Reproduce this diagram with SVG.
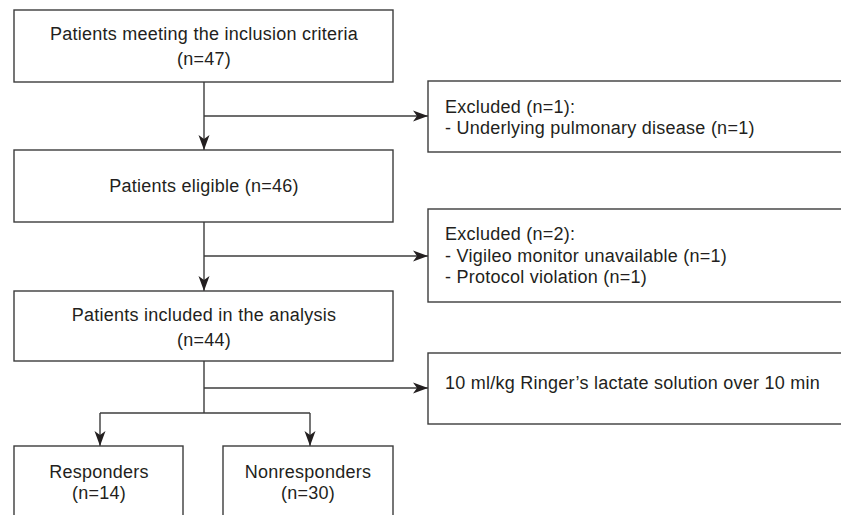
<svg xmlns="http://www.w3.org/2000/svg" width="841" height="515" viewBox="0 0 841 515">
<defs>
<style>
.box{fill:#fff;stroke:#3c3c3c;stroke-width:1.4}
.ln{fill:none;stroke:#3c3c3c;stroke-width:1.4}
text{font-family:"Liberation Sans",Arial,sans-serif;font-size:18px;letter-spacing:0.25px;fill:#231f20}
.c{text-anchor:middle}
</style>
<marker id="ah" markerUnits="userSpaceOnUse" markerWidth="16" markerHeight="12" viewBox="0 0 16 12" refX="15" refY="6" orient="auto">
<path d="M0,0.5 L15,6 L0,11.5 L4,6 z" fill="#231f20"/>
</marker>
</defs>
<rect width="841" height="515" fill="#fff"/>
<g id="connectors">
<path class="ln" d="M204,82 V150" marker-end="url(#ah)"/>
<path class="ln" d="M204,116 H428" marker-end="url(#ah)"/>
<path class="ln" d="M204,222 V291" marker-end="url(#ah)"/>
<path class="ln" d="M204,256 H428" marker-end="url(#ah)"/>
<path class="ln" d="M204,361 V413"/>
<path class="ln" d="M204,388 H428" marker-end="url(#ah)"/>
<path class="ln" d="M100,413 H310"/>
<path class="ln" d="M100,413 V446" marker-end="url(#ah)"/>
<path class="ln" d="M310,413 V446" marker-end="url(#ah)"/>
</g>
<g id="n1">
<rect class="box" x="14" y="10" width="379" height="72"/>
<text class="c" x="204" y="40">Patients meeting the inclusion criteria</text>
<text class="c" x="204" y="65">(n=47)</text>
</g>
<g id="x1">
<rect class="box" x="428" y="81" width="430" height="71"/>
<text x="445" y="113">Excluded (n=1):</text>
<text x="445" y="134">- Underlying pulmonary disease (n=1)</text>
</g>
<g id="n2">
<rect class="box" x="14" y="150" width="379" height="72"/>
<text class="c" x="204" y="192">Patients eligible (n=46)</text>
</g>
<g id="x2">
<rect class="box" x="428" y="209" width="430" height="93"/>
<text x="445" y="240">Excluded (n=2):</text>
<text x="445" y="262">- Vigileo monitor unavailable (n=1)</text>
<text x="445" y="283">- Protocol violation (n=1)</text>
</g>
<g id="n3">
<rect class="box" x="14" y="291" width="379" height="70"/>
<text class="c" x="204" y="321">Patients included in the analysis</text>
<text class="c" x="204" y="346">(n=44)</text>
</g>
<g id="x3">
<rect class="box" x="428" y="353" width="430" height="71"/>
<text x="445" y="389">10 ml/kg Ringer’s lactate solution over 10 min</text>
</g>
<g id="n4">
<rect class="box" x="14" y="446" width="169" height="90"/>
<text class="c" x="99" y="478">Responders</text>
<text class="c" x="99" y="499">(n=14)</text>
</g>
<g id="n5">
<rect class="box" x="223" y="446" width="170" height="90"/>
<text class="c" x="308" y="478">Nonresponders</text>
<text class="c" x="308" y="499">(n=30)</text>
</g>
</svg>
